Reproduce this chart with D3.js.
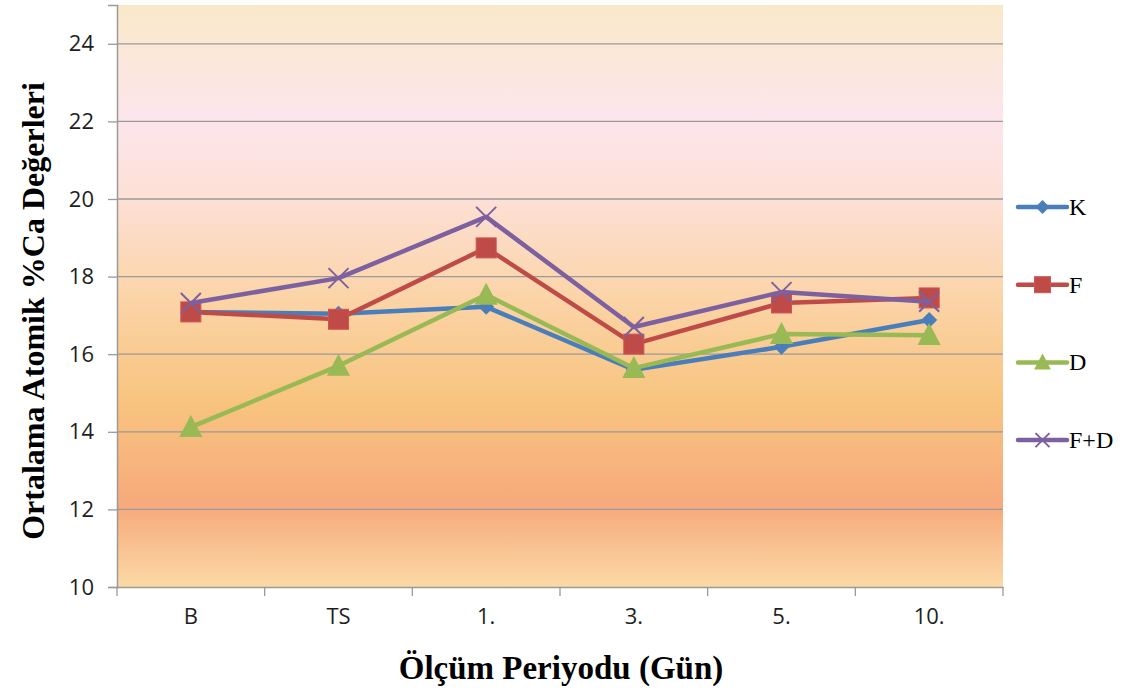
<!DOCTYPE html>
<html>
<head>
<meta charset="utf-8">
<script src="https://cdn.jsdelivr.net/npm/d3@7"></script>
<style>
  body { margin: 0; background: #fff; }
  .tick text { font-family: "Open Sans", "Liberation Sans", sans-serif; fill: #1e1e1e; }
</style>
</head>
<body>
<div id="chart"></div>
<script>
// data
var categories = ["B", "TS", "1.", "3.", "5.", "10."];
var seriesNames = ["K", "F", "D", "F+D"];
var valuesK  = [17.09, 17.04, 17.22, 15.60, 16.19, 16.88];
var valuesF  = [17.09, 16.90, 18.74, 16.26, 17.32, 17.45];
var valuesD  = [14.12, 15.70, 17.53, 15.64, 16.52, 16.49];
var valuesFD = [17.32, 17.96, 19.54, 16.70, 17.60, 17.35];
var yTicks = [10, 12, 14, 16, 18, 20, 22, 24];

var colors = ["#4a7ebb", "#be4b48", "#98b954", "#7d60a0"];
var symbols = ["diamond", "square", "triangle", "x"];
var allValues = [valuesK, valuesF, valuesD, valuesFD];

var margin = {top: 5, right: 133, bottom: 106, left: 117},
    width = 1136 - margin.left - margin.right,
    height = 693 - margin.top - margin.bottom;

var svg = d3.select("#chart")
  .append("svg")
    .attr("width", 1136)
    .attr("height", 693);

var defs = svg.append("defs");
var grad = defs.append("linearGradient")
    .attr("id", "bg")
    .attr("x1", 0).attr("y1", 0).attr("x2", 0).attr("y2", 1);
[[0, "#f9e9c9"], [0.19, "#fce5ec"], [0.33, "#fde0d6"], [0.5, "#fbd4a8"],
 [0.68, "#f8c47f"], [0.86, "#f7a97b"], [1, "#fbdaa6"]].forEach(function(s) {
  grad.append("stop").attr("offset", s[0]).attr("stop-color", s[1]);
});

var g = svg.append("g")
    .attr("transform", "translate(" + margin.left + "," + margin.top + ")");

g.append("rect")
    .attr("width", width)
    .attr("height", height)
    .attr("fill", "url(#bg)");

var x = d3.scaleBand()
    .domain(categories)
    .range([0, width]);

var y = d3.scaleLinear()
    .domain([10, 25])
    .range([height, 0]);

// gridlines
g.selectAll(".grid")
  .data(yTicks.slice(1))
  .enter()
  .append("line")
    .attr("x1", 0)
    .attr("x2", width)
    .attr("y1", function(d) { return y(d); })
    .attr("y2", function(d) { return y(d); })
    .attr("stroke", "#9a9a9a")
    .attr("stroke-width", 1.3);

// y axis
var yAxis = g.append("g")
    .call(d3.axisLeft(y).tickValues(yTicks).tickSize(9).tickPadding(14));
yAxis.selectAll("text").style("font-size", "22px");
yAxis.select(".domain").attr("stroke", "#9a9a9a").attr("stroke-width", 1.5);
yAxis.selectAll(".tick line").attr("stroke", "#9a9a9a").attr("stroke-width", 1.3);

// x axis, ticks on band edges
var xAxis = g.append("g")
    .attr("transform", "translate(0," + height + ")")
    .call(d3.axisBottom(x).tickSize(0).tickPadding(21));
xAxis.selectAll("text").style("font-size", "22px");
xAxis.select(".domain").attr("stroke", "#9a9a9a").attr("stroke-width", 1.5);
var edges = categories.map(function(c) { return x(c); }).concat([width]);
xAxis.selectAll(".edge")
  .data(edges)
  .enter()
  .append("line")
    .attr("x1", function(d) { return d; })
    .attr("x2", function(d) { return d; })
    .attr("y1", 0)
    .attr("y2", 9)
    .attr("stroke", "#9a9a9a")
    .attr("stroke-width", 1.3);

var line = d3.line()
    .x(function(d, i) { return x(categories[i]) + x.bandwidth() / 2; })
    .y(function(d) { return y(d); });

function marker(sel, type, color, s) {
  if (type == "diamond") {
    sel.append("path").attr("d", "M0," + (-s) + "L" + s + ",0L0," + s + "L" + (-s) + ",0Z")
      .attr("fill", color);
  } else if (type == "square") {
    sel.append("rect").attr("x", -s).attr("y", -s).attr("width", 2 * s).attr("height", 2 * s)
      .attr("fill", color).attr("stroke", d3.color(color).brighter(0.3)).attr("stroke-width", 1);
  } else if (type == "triangle") {
    sel.append("path").attr("d", "M0," + (-s * 1.1) + "L" + (s * 1.05) + "," + (s * 0.9) + "L" + (-s * 1.05) + "," + (s * 0.9) + "Z")
      .attr("fill", color);
  } else {
    sel.append("path").attr("d", "M" + (-s) + "," + (-s) + "L" + s + "," + s + "M" + (-s) + "," + s + "L" + s + "," + (-s))
      .attr("stroke", color).attr("stroke-width", 2).attr("fill", "none");
  }
}

var markerSize = [8, 10, 11, 10];

allValues.forEach(function(vals, k) {
  var sg = g.append("g");
  sg.append("path")
    .datum(vals)
    .attr("d", line)
    .attr("fill", "none")
    .attr("stroke", colors[k])
    .attr("stroke-width", 4.5)
    .attr("stroke-linejoin", "round");
  vals.forEach(function(v, i) {
    var m = sg.append("g")
      .attr("transform", "translate(" + (x(categories[i]) + x.bandwidth() / 2) + "," + y(v) + ")");
    marker(m, symbols[k], colors[k], markerSize[k]);
  });
});

// legend
var legend = svg.append("g").attr("transform", "translate(1018,0)");
seriesNames.forEach(function(name, k) {
  var ly = 207 + k * 77.7;
  legend.append("line")
    .attr("x1", 0).attr("x2", 49)
    .attr("y1", ly).attr("y2", ly)
    .attr("stroke", colors[k])
    .attr("stroke-width", 4.5)
    .attr("stroke-linecap", "round");
  var m = legend.append("g").attr("transform", "translate(24.5," + ly + ")");
  marker(m, symbols[k], colors[k], [7, 8, 8, 7][k]);
  legend.append("text")
    .attr("x", 51)
    .attr("y", ly + 8)
    .style("font-family", "'Liberation Serif', 'Times New Roman', serif")
    .style("font-size", "24px")
    .text(name);
});

// axis titles
svg.append("text")
    .attr("transform", "translate(44," + (margin.top + height / 2 + 15) + ") rotate(-90)")
    .style("text-anchor", "middle")
    .style("font-family", "'Liberation Serif', 'Times New Roman', serif")
    .style("font-weight", "bold")
    .style("font-size", "32px")
    .text("Ortalama Atomik %Ca Değerleri");

svg.append("text")
    .attr("x", 561)
    .attr("y", 679)
    .style("text-anchor", "middle")
    .style("font-family", "'Liberation Serif', 'Times New Roman', serif")
    .style("font-weight", "bold")
    .style("font-size", "33px")
    .text("Ölçüm Periyodu (Gün)");
</script>
</body>
</html>
